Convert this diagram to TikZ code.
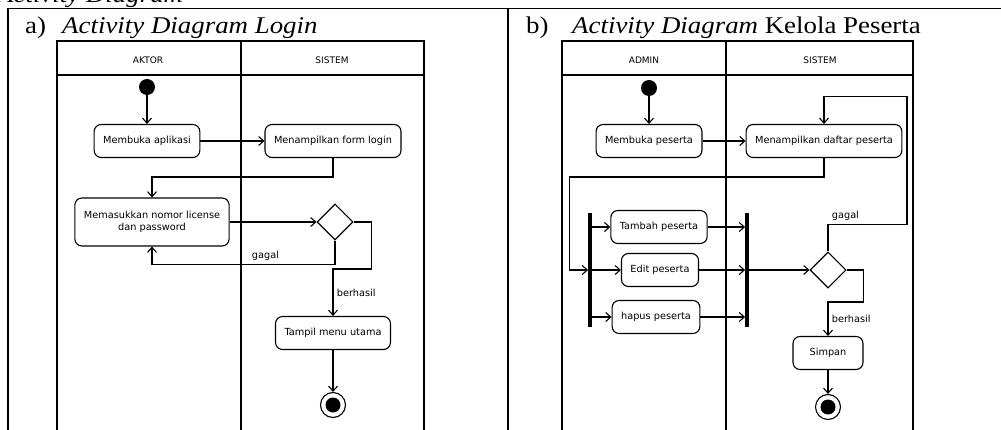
\documentclass[tikz,border=0pt]{standalone}
\usepackage{fontspec}
\setmainfont{Liberation Serif}
\newfontfamily\umlfont{DejaVu Sans}
\newfontfamily\capfont[FakeStretch=1.12]{Liberation Serif}
\usetikzlibrary{positioning, shapes.geometric, arrows.meta}

\begin{document}
\begin{tikzpicture}[
    x=1pt, y=-1pt,
    on grid,
    font=\umlfont\fontsize{9.75}{12}\selectfont,
    >={Straight Barb[length=5pt, width=9pt]},
    act/.style={draw, line width=1.1pt, rounded corners=7pt, align=center, minimum width=70pt, minimum height=33pt, inner xsep=9pt},
    start/.style={circle, fill=black, minimum size=16pt, inner sep=0pt},
    stop/.style={circle, draw, line width=1.1pt, fill=white, minimum size=25pt, inner sep=0pt,
        label={[circle, fill=black, minimum size=15pt, inner sep=0pt]center:{}}},
    choice/.style={diamond, draw, line width=1.1pt, minimum width=36pt, minimum height=36pt, inner sep=0pt},
    bar/.style={fill=black, minimum width=3.5pt, minimum height=113pt, inner sep=0pt},
    flow/.style={->, line width=1.1pt},
    lane/.style={line width=1.1pt},
    frame/.style={line width=1.8pt},
    lanehead/.style={font=\umlfont\fontsize{9}{10}\selectfont},
    caption/.style={font=\capfont\fontsize{24}{28}\selectfont, anchor=base west, inner sep=0pt}
]
   \useasboundingbox (0,0) rectangle (1001,430);

   % Table frame
   \draw[frame] (8,430) -- (8,8.5) -- (1001,8.5);
   \draw[frame] (508,8.5) -- (508,430);
   \node[caption] (judul) at (-3,3) {\textit{Activity Diagram}};
   \node[caption] (labA) at (25,34) {a)};
   \node[caption] (titA) at (62,34) {\textit{Activity Diagram Login}};
   \node[caption] (labB) at (526,34) {b)};
   \node[caption] (titB) at (572,34) {\textit{Activity Diagram} Kelola Peserta};

   % Swimlanes a
   \draw[lane] (57,440) |- (424,41) -- (424,440);
   \draw[lane] (57,75) -- (424,75);
   \draw[lane] (241,41) -- (241,440);
   \node[lanehead] (aktor) at (148,60) {AKTOR};
   \node[lanehead] (sistemA) at (332,60) {SISTEM};

   % Swimlanes b
   \draw[lane] (562,440) |- (913,41) -- (913,440);
   \draw[lane] (562,75) -- (913,75);
   \draw[lane] (726,41) -- (726,440);
   \node[lanehead] (admin) at (644,60) {ADMIN};
   \node[lanehead] (sistemB) at (820,60) {SISTEM};

   % Login
   \node[start] (mulaiA) at (147,87) {};
   \node[act] (buka) [below=54pt of mulaiA] {Membuka aplikasi};
   \node[act] (form) [right=186pt of buka] {Menampilkan form login};
   \node[act, minimum height=48pt] (masuk) at (152,222) {Memasukkan nomor license\\dan password};
   \node[choice] (cekA) at (335,222) {};
   \node[act] (menu) at (333,333) {Tampil menu utama};
   \node[stop] (akhirA) [below=72pt of menu] {};

   \draw[flow] (mulaiA) -- (buka);
   \draw[flow] (buka) -- (form);
   \draw[flow] (form.south) -- ++(0,19) -| (masuk.north);
   \draw[flow] (masuk) -- (cekA);
   \draw[flow] (cekA.south) -- ++(0,24) -| node[pos=0.19, above] {gagal} (masuk.south);
   \draw[flow] (cekA.east) -| ++(18,47) -| node[pos=0.75, right] {berhasil} (menu.north);
   \draw[flow] (menu) -- (akhirA);

   % Kelola peserta
   \node[start] (mulaiB) at (649,88) {};
   \node[act] (bukaB) [below=53pt of mulaiB] {Membuka peserta};
   \node[act] (daftar) [right=175pt of bukaB] {Menampilkan daftar peserta};
   \node[bar] (fork) at (590,270) {};
   \node[bar] (join) at (747,270) {};
   \node[act] (tambah) at (659,227) {Tambah peserta};
   \node[act] (edit) at (660,270) {Edit peserta};
   \node[act] (hapus) at (656,317) {hapus peserta};
   \node[choice] (cekB) at (828,270) {};
   \node[act] (simpan) at (828,353) {Simpan};
   \node[stop] (akhirB) [below=54pt of simpan] {};

   \draw[flow] (mulaiB) -- (bukaB);
   \draw[flow] (bukaB) -- (daftar);
   \draw[flow] (daftar.south) -- ++(0,19) -| ([xshift=-19pt]fork.west) -- (fork.west);
   \foreach \t in {tambah, edit, hapus} {
      \draw[flow] (fork.east |- \t) -- (\t);
      \draw[flow] (\t) -- (join.west |- \t);
   }
   \draw[flow] (join.east) -- (cekB);
   \draw[flow] (cekB.north) |- node[pos=0.5, above right] {gagal} ++(79,-27) |- ++(-83,-128) -- (daftar.north);
   \draw[flow] (cekB.east) -| ++(17,32) -| node[pos=0.75, right] {berhasil} (simpan.north);
   \draw[flow] (simpan) -- (akhirB);
\end{tikzpicture}
\end{document}
